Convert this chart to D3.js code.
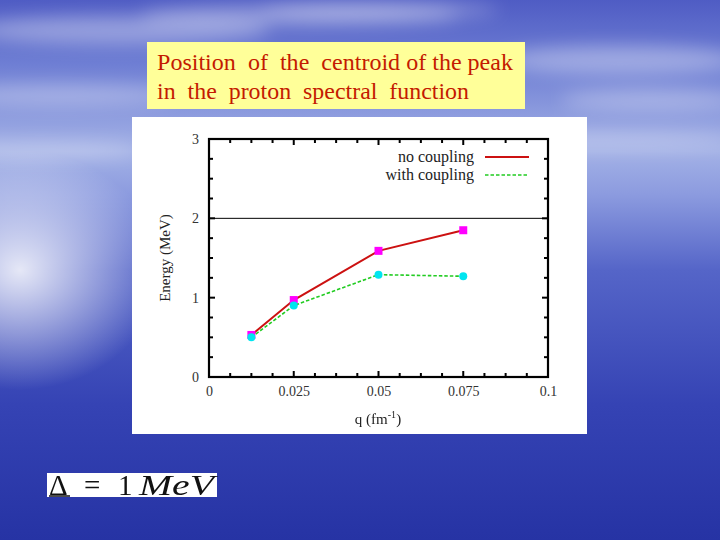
<!DOCTYPE html>
<html><head><meta charset="utf-8">
<script src="https://cdn.jsdelivr.net/npm/d3@7/dist/d3.min.js"></script>
<style>html,body{margin:0;padding:0;overflow:hidden;background:#3040b0}</style>
</head><body>
<script>
const qValues = [0.0125, 0.025, 0.05, 0.075];
const noCoupling = [0.53, 0.97, 1.59, 1.85];
const withCoupling = [0.50, 0.90, 1.29, 1.27];
const xTickLabels = ["0", "0.025", "0.05", "0.075", "0.1"];
const yTickLabels = ["0", "1", "2", "3"];
const seriesNames = ["no coupling", "with coupling"];
const referenceEnergy = 2;
const titleLines = ["Position  of  the  centroid of the peak", "in  the  proton  spectral  function"];

const W = 720, H = 540;
const svg = d3.select("body").append("svg").attr("width", W).attr("height", H);
const defs = svg.append("defs");

// background sky/sea
const bg = defs.append("linearGradient").attr("id","bg").attr("x1",0).attr("y1",0).attr("x2",0).attr("y2",1);
[[0,"#4f5cc4"],[0.12,"#6f7fd4"],[0.28,"#a3b1e6"],[0.36,"#8c9bdf"],[0.5,"#5565c8"],[0.75,"#3543b4"],[1,"#2633a4"]]
  .forEach(([o,c])=>bg.append("stop").attr("offset",o).attr("stop-color",c));
svg.append("rect").attr("width",W).attr("height",H).attr("fill","url(#bg)");
const glow = defs.append("radialGradient").attr("id","glow").attr("cx",0.5).attr("cy",0.5).attr("r",0.5);
glow.append("stop").attr("offset",0).attr("stop-color","#ffffff").attr("stop-opacity",0.85);
glow.append("stop").attr("offset",1).attr("stop-color","#ffffff").attr("stop-opacity",0);
svg.append("ellipse").attr("cx",20).attr("cy",270).attr("rx",140).attr("ry",120).attr("fill","url(#glow)");
const blur = defs.append("filter").attr("id","blur").attr("x","-50%").attr("y","-50%").attr("width","200%").attr("height","200%");
blur.append("feGaussianBlur").attr("stdDeviation",9);
const clouds = svg.append("g").attr("filter","url(#blur)").attr("fill","#ffffff");
[[120,30,150,14,0.35],[60,95,120,10,0.3],[300,15,160,10,0.35],[620,60,120,14,0.35],[650,100,90,10,0.3],[600,140,140,8,0.3],[380,10,120,8,0.3],[40,150,100,8,0.3]]
  .forEach(([cx,cy,rx,ry,o])=>clouds.append("ellipse").attr("cx",cx).attr("cy",cy).attr("rx",rx).attr("ry",ry).attr("opacity",o));

// title box
svg.append("rect").attr("x",147).attr("y",42).attr("width",378).attr("height",67).attr("fill","#ffff99");
const tt = svg.append("g").attr("font-family","'Liberation Serif','Times New Roman',serif").attr("font-size",23).attr("fill","#c41a00");
tt.append("text").attr("x",157).attr("y",70).attr("xml:space","preserve").style("white-space","pre")
  .attr("textLength",356).attr("lengthAdjust","spacingAndGlyphs").text(titleLines[0]);
tt.append("text").attr("x",157).attr("y",99).attr("xml:space","preserve").style("white-space","pre")
  .attr("textLength",312).attr("lengthAdjust","spacingAndGlyphs").text(titleLines[1]);

// chart panel
svg.append("rect").attr("x",132).attr("y",117).attr("width",455).attr("height",317).attr("fill","#ffffff");

const L=209, R=548, T=139, B=377;
const x = d3.scaleLinear().domain([0,0.1]).range([L,R]);
const y = d3.scaleLinear().domain([0,3]).range([B,T]);
const font = "'Liberation Serif','Times New Roman',serif";
const g = svg.append("g").attr("font-family",font);

// minor/major ticks on all sides (inward)
const xMinor = d3.range(0,0.1+1e-9,0.00625);
const yMinor = d3.range(0,3+1e-9,0.25);
const tk = g.append("g").attr("stroke","#000").attr("stroke-width",2);
xMinor.forEach(v=>{
  const major = Math.abs(v/0.025-Math.round(v/0.025))<1e-6;
  const len = major?6:4;
  tk.append("line").attr("x1",x(v)).attr("x2",x(v)).attr("y1",B).attr("y2",B-len);
  tk.append("line").attr("x1",x(v)).attr("x2",x(v)).attr("y1",T).attr("y2",T+len);
});
yMinor.forEach(v=>{
  const major = Math.abs(v-Math.round(v))<1e-6;
  const len = major?6:4;
  tk.append("line").attr("y1",y(v)).attr("y2",y(v)).attr("x1",L).attr("x2",L+len);
  tk.append("line").attr("y1",y(v)).attr("y2",y(v)).attr("x1",R).attr("x2",R-len);
});

// axes labels via d3 axes (no domain lines, ticks hidden)
const xAxis = d3.axisBottom(x).tickValues([0,0.025,0.05,0.075,0.1]).tickFormat((d,i)=>xTickLabels[i]).tickSize(0).tickPadding(9);
const xa = g.append("g").attr("transform",`translate(0,${B})`).call(xAxis);
const yAxis = d3.axisLeft(y).tickValues([0,1,2,3]).tickFormat((d,i)=>yTickLabels[i]).tickSize(0).tickPadding(10);
const ya = g.append("g").attr("transform",`translate(${L},0)`).call(yAxis);
[xa,ya].forEach(a=>{a.select(".domain").remove();a.selectAll("text").attr("font-family",font).attr("font-size",14).attr("fill","#333");});

// reference line at 2 MeV
g.append("line").attr("x1",L).attr("x2",R).attr("y1",y(referenceEnergy)).attr("y2",y(referenceEnergy)).attr("stroke","#000").attr("stroke-width",1);

// frame
g.append("rect").attr("x",L).attr("y",T).attr("width",R-L).attr("height",B-T).attr("fill","none").attr("stroke","#000").attr("stroke-width",2.2);

// series
const line = d3.line().x(d=>x(d[0])).y(d=>y(d[1]));
const d1 = qValues.map((q,i)=>[q,noCoupling[i]]);
const d2 = qValues.map((q,i)=>[q,withCoupling[i]]);
g.append("path").attr("d",line(d1)).attr("fill","none").attr("stroke","#cc1111").attr("stroke-width",2);
g.selectAll(".sq").data(d1).enter().append("rect").attr("x",d=>x(d[0])-4).attr("y",d=>y(d[1])-4).attr("width",8).attr("height",8).attr("fill","#ff00ff");
g.append("path").attr("d",line(d2)).attr("fill","none").attr("stroke","#22cc22").attr("stroke-width",1.6).attr("stroke-dasharray","3.5,2");
g.selectAll(".ci").data(d2).enter().append("circle").attr("cx",d=>x(d[0])).attr("cy",d=>y(d[1])).attr("r",4).attr("fill","#00e5f0");

// legend
const lg = g.append("g").attr("font-size",16).attr("fill","#222");
lg.append("text").attr("x",474).attr("y",162).attr("text-anchor","end").text(seriesNames[0]);
lg.append("line").attr("x1",485).attr("x2",529).attr("y1",157).attr("y2",157).attr("stroke","#cc1111").attr("stroke-width",2);
lg.append("text").attr("x",474).attr("y",180).attr("text-anchor","end").text(seriesNames[1]);
lg.append("line").attr("x1",485).attr("x2",529).attr("y1",175).attr("y2",175).attr("stroke","#22cc22").attr("stroke-width",1.6).attr("stroke-dasharray","3.5,2");

// axis titles
g.append("text").attr("transform","translate(170,258) rotate(-90)").attr("text-anchor","middle").attr("font-size",15).attr("fill","#222").text("Energy (MeV)");
const xt = g.append("text").attr("x",378).attr("y",424).attr("text-anchor","middle").attr("font-size",15).attr("fill","#222");
xt.append("tspan").text("q (fm");
xt.append("tspan").attr("dy",-6).attr("font-size",10).text("-1");
xt.append("tspan").attr("dy",6).text(")");

// Delta box
svg.append("rect").attr("x",47).attr("y",473).attr("width",170).attr("height",24).attr("fill","#ffffff");
const dl = svg.append("g").attr("font-family",font).attr("font-size",29).attr("fill","#111");
dl.append("text").attr("x",49).attr("y",495).text("Δ");
dl.append("text").attr("x",84).attr("y",495).text("=");
dl.append("text").attr("x",118).attr("y",495).text("1");
dl.append("text").attr("x",139).attr("y",495).attr("font-style","italic").attr("textLength",75).attr("lengthAdjust","spacingAndGlyphs").text("MeV");
svg.append("line").attr("x1",49).attr("x2",70).attr("y1",496).attr("y2",496).attr("stroke","#111").attr("stroke-width",1.5);
</script>
</body></html>
